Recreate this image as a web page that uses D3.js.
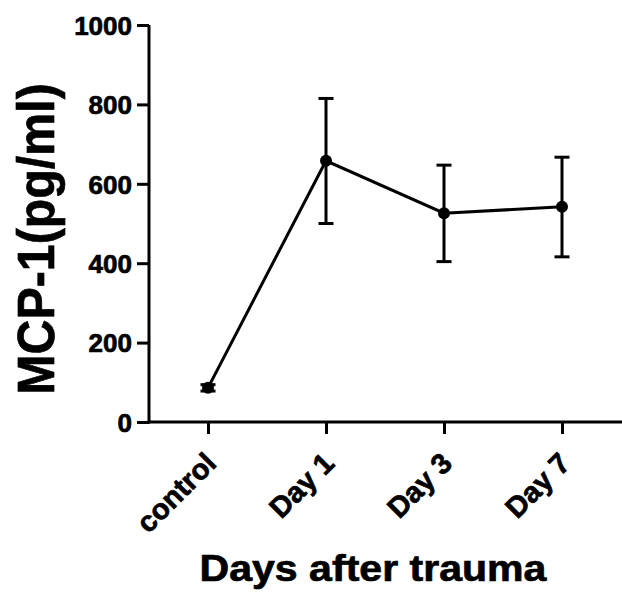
<!DOCTYPE html>
<html>
<head>
<meta charset="utf-8">
<script src="https://cdn.jsdelivr.net/npm/d3@7"></script>
<style>
	body { margin: 0; background: #fff; }
	svg text { font-family: "Liberation Sans", Arial, sans-serif; font-weight: bold; fill: #000; stroke: #000; stroke-width: 0.7px; }
</style>
</head>
<body>
<svg id="chart" width="622" height="593"></svg>
<script>
// values
const groups = ['control', 'Day 1', 'Day 3', 'Day 7']
const means = [86, 658, 526, 542]
const upper = [94, 815, 647, 667]
const lower = [78, 500, 404, 416]
const yTicks = [0, 200, 400, 600, 800, 1000]

const svg = d3.select('#chart')
const x = d3.scalePoint().domain(groups).range([149, 621]).padding(0.5)
const y = d3.scaleLinear().domain([0, 1000]).range([422, 25])

const stroke = 3

// y axis
const yAxis = svg.append('g').attr('transform', 'translate(149,0)')
	.call(d3.axisLeft(y).tickValues(yTicks).tickSize(12).tickPadding(5).tickFormat(d3.format('d')))
yAxis.select('.domain').attr('d', `M0,${y(1000)}V${y(0) + stroke / 2}`).attr('stroke-width', stroke)
yAxis.selectAll('.tick line').attr('stroke-width', stroke)
yAxis.selectAll('.tick text').attr('font-size', 26).attr('dy', '0.36em')

// x axis
const xAxis = svg.append('g').attr('transform', `translate(0,${y(0)})`)
	.call(d3.axisBottom(x).tickSize(12).tickFormat(''))
xAxis.select('.domain').attr('d', `M${149 - stroke / 2},0H622`).attr('stroke-width', stroke)
xAxis.selectAll('.tick line').attr('stroke-width', stroke)

svg.append('g').selectAll('text').data(groups).join('text')
	.attr('text-anchor', 'end')
	.attr('font-size', 29)
	.attr('transform', d => `translate(${x(d) + 10},${y(0) + 43}) rotate(-45)`)
	.text(d => d)

// error bars
const eb = svg.append('g').attr('stroke', '#000').attr('stroke-width', stroke)
groups.forEach((g, i) => {
	eb.append('line').attr('x1', x(g)).attr('x2', x(g)).attr('y1', y(upper[i])).attr('y2', y(lower[i]))
	eb.append('line').attr('x1', x(g) - 7.5).attr('x2', x(g) + 7.5).attr('y1', y(upper[i])).attr('y2', y(upper[i]))
	eb.append('line').attr('x1', x(g) - 7.5).attr('x2', x(g) + 7.5).attr('y1', y(lower[i])).attr('y2', y(lower[i]))
})

// mean line and points
svg.append('path')
	.datum(groups.map((g, i) => [x(g), y(means[i])]))
	.attr('fill', 'none').attr('stroke', '#000').attr('stroke-width', stroke)
	.attr('d', d3.line())
svg.append('g').selectAll('circle').data(groups).join('circle')
	.attr('cx', d => x(d)).attr('cy', (d, i) => y(means[i])).attr('r', 6).attr('fill', '#000')

// axis titles
svg.append('text')
	.attr('text-anchor', 'middle').attr('font-size', 52)
	.attr('transform', 'translate(54,239) rotate(-90) scale(0.93,1)')
	.text('MCP-1(pg/ml)')
svg.append('text')
	.attr('text-anchor', 'middle').attr('font-size', 37)
	.attr('transform', 'translate(373,581) scale(1.11,1)')
	.text('Days after trauma')
</script>
</body>
</html>
